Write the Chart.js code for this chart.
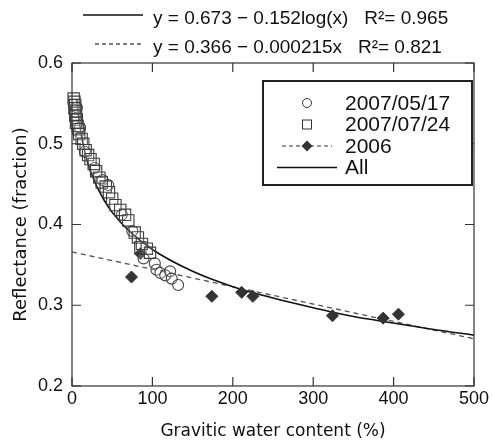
<!DOCTYPE html>
<html>
<head>
<meta charset="utf-8">
<script src="https://cdn.jsdelivr.net/npm/chart.js@4"></script>
<style>
  html, body { margin: 0; padding: 0; background: #fff; }
  #wrap { width: 492px; height: 445px; }
</style>
</head>
<body>
<div id="wrap"><canvas id="chart" width="492" height="445"></canvas></div>
<script>
// 2007/05/17 (cercles)
const may17X = [6, 10, 16, 28, 38, 45, 62, 75, 89, 103, 105, 110, 116, 122, 124, 132];
const may17Y = [0.545, 0.520, 0.490, 0.470, 0.455, 0.449, 0.412, 0.392, 0.358, 0.352, 0.344, 0.340, 0.337, 0.342, 0.333, 0.325];

// 2007/07/24 (carrés)
const jul24X = [2, 3, 4, 3, 5, 4, 6, 5, 7, 8, 9, 12, 14, 17, 20, 23, 27, 30, 34, 37, 42, 46, 50, 54, 60, 66, 70, 78, 82, 85, 87, 93, 97];
const jul24Y = [0.556, 0.552, 0.548, 0.544, 0.540, 0.535, 0.530, 0.526, 0.522, 0.518, 0.512, 0.506, 0.500, 0.492, 0.486, 0.481, 0.475, 0.466, 0.458, 0.452, 0.447, 0.440, 0.432, 0.424, 0.418, 0.412, 0.405, 0.390, 0.384, 0.372, 0.376, 0.370, 0.365];

// 2006 (losanges)
const y2006X = [74, 85, 174, 211, 225, 324, 387, 406];
const y2006Y = [0.335, 0.364, 0.311, 0.316, 0.311, 0.287, 0.284, 0.289];

// courbe "All"
const allFitX = [6, 8, 10, 15, 20, 30, 40, 50, 70, 100, 150, 200, 250, 300, 350, 400, 450, 500];
const allFitY = [0.555, 0.536, 0.521, 0.494, 0.475, 0.449, 0.430, 0.415, 0.393, 0.369, 0.342, 0.323, 0.309, 0.297, 0.286, 0.278, 0.270, 0.263];

// droite 2006
const fit2006X = [0, 500];
const fit2006Y = [0.366, 0.2585];

const xTicks = [0, 100, 200, 300, 400, 500];
const yTicks = [0.2, 0.3, 0.4, 0.5, 0.6];

const eqLines = [
  { text: 'y = 0.673 \u2212 0.152log(x)   R\u00B2= 0.965', dash: [] },
  { text: 'y = 0.366 \u2212 0.000215x   R\u00B2= 0.821', dash: [4, 3] }
];
const legendItems = ['2007/05/17', '2007/07/24', '2006', 'All'];

const toPoints = (xs, ys) => xs.map((x, i) => ({ x, y: ys[i] }));

const INK = '#111';
const FONT = '"Liberation Sans", Arial, sans-serif';

// cadre, ticks intérieurs, équations et légende
const decorPlugin = {
  id: 'decor',
  afterDraw(chart) {
    const { ctx, chartArea: a, scales } = chart;
    const tl = 9;
    ctx.save();
    ctx.strokeStyle = '#333';
    ctx.lineWidth = 1.2;
    ctx.strokeRect(a.left, a.top, a.right - a.left, a.bottom - a.top);
    ctx.beginPath();
    xTicks.forEach(v => {
      const px = scales.x.getPixelForValue(v);
      ctx.moveTo(px, a.bottom); ctx.lineTo(px, a.bottom - tl);
      ctx.moveTo(px, a.top); ctx.lineTo(px, a.top + tl);
    });
    yTicks.forEach(v => {
      const py = scales.y.getPixelForValue(v);
      ctx.moveTo(a.left, py); ctx.lineTo(a.left + tl, py);
      ctx.moveTo(a.right, py); ctx.lineTo(a.right - tl, py);
    });
    ctx.stroke();

    // équations en haut
    ctx.fillStyle = INK;
    ctx.font = '19px ' + FONT;
    ctx.textBaseline = 'middle';
    ctx.textAlign = 'left';
    eqLines.forEach((eq, i) => {
      const yy = 19 + i * 29;
      ctx.beginPath();
      ctx.setLineDash(eq.dash);
      ctx.lineWidth = 1.3;
      ctx.strokeStyle = i === 0 ? '#111' : '#555';
      ctx.moveTo(i === 0 ? 83 : 95, yy - 4);
      ctx.lineTo(143, yy - 4);
      ctx.stroke();
      ctx.setLineDash([]);
      ctx.fillText(eq.text, 153, yy);
    });

    // légende encadrée
    const bx = 263, by = 81, bw = 209, bh = 104;
    ctx.fillStyle = '#fff';
    ctx.fillRect(bx, by, bw, bh);
    ctx.lineWidth = 2;
    ctx.strokeStyle = '#222';
    ctx.strokeRect(bx, by, bw, bh);
    const mx = 307;
    ctx.font = '21px ' + FONT;
    legendItems.forEach((label, i) => {
      const yy = 103 + i * 21.5;
      ctx.lineWidth = 1;
      ctx.strokeStyle = '#333';
      ctx.fillStyle = '#333';
      if (i === 0) {
        ctx.beginPath(); ctx.arc(mx, yy, 4.5, 0, Math.PI * 2); ctx.stroke();
      } else if (i === 1) {
        ctx.strokeRect(mx - 4.5, yy - 4.5, 9, 9);
      } else if (i === 2) {
        ctx.beginPath(); ctx.setLineDash([4, 3]); ctx.lineWidth = 1.2;
        ctx.moveTo(282, yy); ctx.lineTo(332, yy); ctx.stroke(); ctx.setLineDash([]);
        ctx.beginPath();
        ctx.moveTo(mx, yy - 5.5); ctx.lineTo(mx + 5.5, yy); ctx.lineTo(mx, yy + 5.5); ctx.lineTo(mx - 5.5, yy);
        ctx.closePath(); ctx.fill();
      } else {
        ctx.beginPath(); ctx.lineWidth = 1.4; ctx.strokeStyle = '#111';
        ctx.moveTo(277, yy); ctx.lineTo(337, yy); ctx.stroke();
      }
      ctx.fillStyle = INK;
      ctx.fillText(label, 345, yy + 1);
    });
    ctx.restore();
  }
};

new Chart(document.getElementById('chart'), {
  type: 'scatter',
  data: {
    datasets: [
      {
        label: '2007/07/24',
        data: toPoints(jul24X, jul24Y),
        pointStyle: 'rect',
        pointRadius: 8,
        backgroundColor: 'rgba(255,255,255,0.1)',
        borderColor: '#3c3c3c',
        borderWidth: 1.1
      },
      {
        label: '2007/05/17',
        data: toPoints(may17X, may17Y),
        pointStyle: 'circle',
        pointRadius: 5.5,
        backgroundColor: 'rgba(255,255,255,0.2)',
        borderColor: '#444',
        borderWidth: 1.1
      },
      {
        label: '2006',
        data: toPoints(y2006X, y2006Y),
        pointStyle: 'rectRot',
        pointRadius: 6,
        backgroundColor: '#333',
        borderColor: '#333',
        borderWidth: 1
      },
      {
        label: 'All',
        data: toPoints(allFitX, allFitY),
        showLine: true,
        pointRadius: 0,
        borderColor: '#111',
        borderWidth: 1.6,
        cubicInterpolationMode: 'monotone'
      },
      {
        label: 'fit 2006',
        data: toPoints(fit2006X, fit2006Y),
        showLine: true,
        pointRadius: 0,
        borderColor: '#555',
        borderWidth: 1.3,
        borderDash: [5, 4]
      }
    ]
  },
  options: {
    responsive: false,
    animation: false,
    devicePixelRatio: 1,
    clip: false,
    layout: { padding: { top: 63, right: 18, left: 0, bottom: 0 } },
    plugins: { legend: { display: false }, tooltip: { enabled: false } },
    scales: {
      x: {
        type: 'linear',
        min: 0, max: 500,
        afterFit: s => { s.height = 59; },
        afterBuildTicks: s => { s.ticks = xTicks.map(v => ({ value: v })); },
        ticks: { color: INK, font: { family: FONT, size: 18 }, padding: 2, maxRotation: 0 },
        grid: { display: false, drawTicks: false },
        border: { display: false },
        title: { display: true, text: 'Gravitic water content (%)', color: INK,
                 font: { family: '"DejaVu Sans", sans-serif', size: 17 }, padding: { top: 0, bottom: 3 } }
      },
      y: {
        min: 0.2, max: 0.6,
        afterFit: s => { s.width = 72; },
        afterBuildTicks: s => { s.ticks = yTicks.map(v => ({ value: v })); },
        ticks: { color: INK, font: { family: FONT, size: 18 }, padding: 9, callback: v => v.toFixed(1) },
        grid: { display: false, drawTicks: false },
        border: { display: false },
        title: { display: true, text: 'Reflectance (fraction)', color: INK,
                 font: { family: '"DejaVu Sans", sans-serif', size: 18 }, padding: { top: 11, bottom: 0 } }
      }
    }
  },
  plugins: [decorPlugin]
});
</script>
</body>
</html>
